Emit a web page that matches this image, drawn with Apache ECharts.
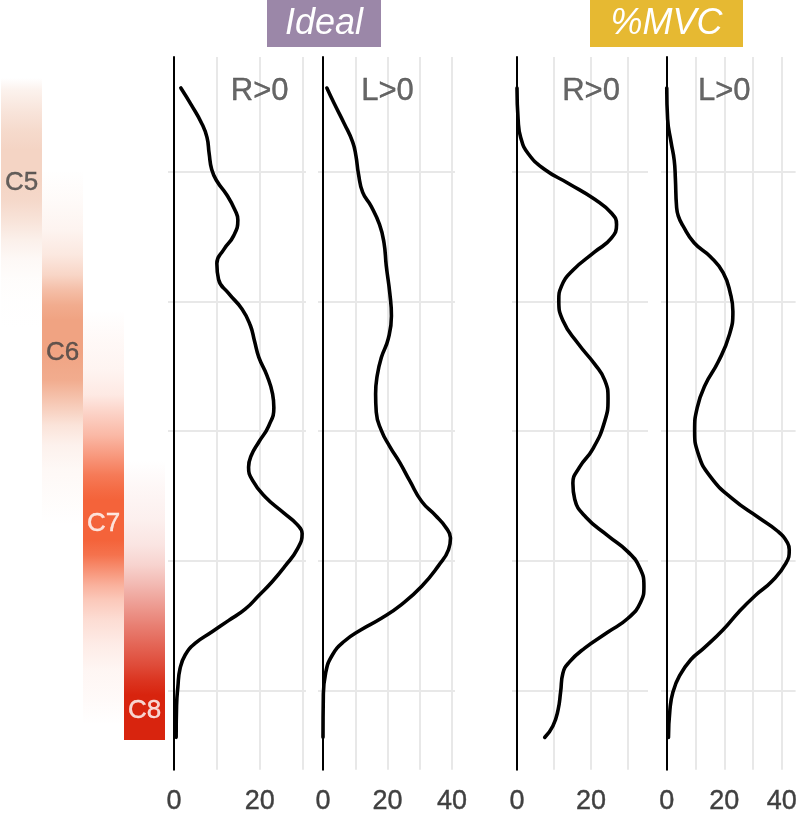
<!DOCTYPE html>
<html>
<head>
<meta charset="utf-8">
<script src="https://cdn.jsdelivr.net/npm/echarts@6/dist/echarts.min.js"></script>
<style>
  html, body { margin: 0; padding: 0; background: #fff; }
  #chart { width: 800px; height: 815px; }
</style>
</head>
<body>
<div id="chart"></div>
<script>
  // vertical position (top -> bottom), gridlines every 100
  const yGrid = [100, 200, 300, 400, 500];

  // density curves as [value, position]
  const idealR = [[1.6,35.4],[4.1,48.8],[6.5,62.9],[7.7,73.5],[8.2,85.9],[8.8,98.2],[10.0,107.1],[12.3,117.7],[14.3,130.0],[14.9,137.1],[13.9,149.4],[11.6,160.0],[10.0,170.6],[10.4,183.0],[12.7,193.6],[15.9,205.9],[17.8,218.3],[18.8,230.6],[19.8,243.0],[21.7,257.1],[23.0,271.2],[23.3,281.8],[22.1,295.9],[19.8,308.3],[18.0,318.9],[17.4,327.7],[18.4,338.3],[21.3,350.7],[25.6,363.0],[28.7,371.8],[29.9,378.9],[28.7,391.3],[26.0,403.6],[22.9,416.0],[19.8,426.6],[16.6,437.2],[12.7,446.0],[8.8,454.8],[4.9,463.6],[2.6,472.5],[1.4,483.1],[0.9,497.2],[0.6,511.3],[0.5,536.0]];
  const idealL = [[1.2,35.4],[3.4,47.0],[6.6,62.9],[9.2,77.1],[10.2,87.6],[11.0,101.8],[12.3,115.9],[14.9,126.5],[17.5,140.6],[18.9,154.7],[19.6,172.4],[20.7,193.6],[21.2,211.2],[20.2,228.9],[18.1,243.0],[16.8,257.1],[16.3,271.2],[16.5,285.3],[18.1,299.5],[20.7,311.8],[23.8,324.2],[26.9,338.3],[30.6,354.2],[34.8,364.8],[37.9,373.6],[39.5,382.4],[38.9,391.3],[35.8,403.6],[30.6,419.5],[24.3,433.6],[18.1,444.2],[11.8,453.0],[6.6,461.9],[2.9,472.5],[0.8,486.6],[0.1,504.2],[0,536.0]];
  const mvcR = [[0,35.4],[0.3,59.4],[1.0,73.5],[3.0,85.9],[7.5,98.2],[13.8,108.8],[21.0,121.2],[25.5,131.8],[26.9,140.6],[25.5,151.2],[21.0,161.8],[15.1,175.9],[12.0,188.3],[11.3,198.9],[12.4,214.7],[16.5,232.4],[21.0,248.3],[23.7,260.6],[24.6,274.8],[23.7,292.4],[20.5,313.6],[16.9,327.7],[15.1,340.1],[15.6,352.4],[18.7,366.5],[24.6,380.7],[30.0,393.0],[33.2,405.4],[34.3,419.5],[33.4,431.9],[30.0,444.2],[24.6,454.8],[18.3,467.2],[14.2,477.8],[12.4,486.6],[11.8,500.7],[11.1,514.8],[9.7,527.2],[7.5,536.0]];
  const mvcL = [[0,35.4],[0.3,59.4],[1.5,77.1],[2.6,91.2],[3.0,105.3],[3.4,126.5],[4.0,134.0],[5.6,141.5],[9.5,154.7],[15.1,165.3],[19.6,177.7],[22.1,193.6],[23.0,207.7],[21.8,225.4],[17.9,246.5],[13.4,264.2],[10.6,281.8],[9.7,299.5],[10.9,317.1],[15.1,334.8],[23.0,352.4],[31.9,366.5],[38.6,377.1],[42.0,386.0],[42.6,391.3],[41.4,401.9],[36.4,416.0],[30.8,426.6],[25.2,438.9],[19.6,453.0],[12.9,467.2],[8.4,476.0],[4.5,488.3],[2.2,500.7],[1.1,514.8],[0.6,536.0]];

  // vertebral level strips: positions and opacity
  const levels = ['C5', 'C6', 'C7', 'C8'];
  const levelLabelPos = [107.6, 237.4, 367.9, 510.5];
  const c5Pos = [27.5,36.6,51.9,67.2,82.4,105.3,120.6,135.9,151.1,166.4,181.7,196.9,219.8];
  const c5Alpha = [0,0.3,0.6,0.85,1,1,0.9,0.65,0.35,0.15,0.06,0.02,0];
  const c6Pos = [97.7,120.6,143.5,162.6,177.9,189.3,200.8,212.2,235.1,258.0,269.5,280.9,292.4,307.6,326.7,349.6,368.7];
  const c6Alpha = [0,0.05,0.12,0.25,0.45,0.7,0.9,1,1,0.9,0.7,0.5,0.3,0.15,0.07,0.03,0];
  const c7Pos = [204.6,227.5,250.4,269.5,284.7,300.0,315.3,330.5,342.0,349.6,380.2,391.6,403.1,414.5,426.0,441.2,460.3,479.4,502.3,521.4];
  const c7Alpha = [0,0.04,0.07,0.14,0.3,0.45,0.65,0.85,0.95,1,1,0.9,0.7,0.5,0.35,0.22,0.12,0.06,0.03,0];
  const c8Pos = [319.1,342.0,364.9,384.0,399.2,414.5,429.8,445.0,460.3,475.6,487.0,498.5,532.8];
  const c8Alpha = [0,0.04,0.07,0.12,0.2,0.32,0.45,0.58,0.7,0.82,0.92,1,1];

  const levelColors = [[244,212,196],[240,163,130],[244,99,58],[216,36,14]];
  const levelPos = [c5Pos, c6Pos, c7Pos, c8Pos];
  const levelAlpha = [c5Alpha, c6Alpha, c7Alpha, c8Alpha];

  const font = '"Liberation Sans", Arial, sans-serif';
  const textGrey = '#404040';
  const gridGrey = '#e8e8e8';
  const yMin = 11.5, yMax = 561;

  const panels = [
    {name: 'R>0', data: idealR, left: 168, width: 138, min: -1.4, max: 30.8, ticks: [10,20,30], labels: [0,20]},
    {name: 'L>0', data: idealL, left: 318, width: 137, min: -1.55, max: 40.9, ticks: [10,20,30,40], labels: [0,20,40]},
    {name: 'R>0', data: mvcR, left: 512, width: 136, min: -1.35, max: 35.4, ticks: [10,20,30], labels: [0,20]},
    {name: 'L>0', data: mvcL, left: 661, width: 139, min: -2.0, max: 44.8, ticks: [10,20,30,40], labels: [0,20,40]}
  ];

  // tile segments for the strips
  const tiles = [];
  levels.forEach((lv, i) => {
    const pos = levelPos[i], a = levelAlpha[i];
    for (let k = 0; k < pos.length - 1; k++) {
      tiles.push([i, pos[k], pos[k + 1], a[k], a[k + 1]]);
    }
  });
  const rgba = (c, a) => 'rgba(' + c[0] + ',' + c[1] + ',' + c[2] + ',' + a + ')';

  const grid = [{left: 1, top: 57, width: 164, height: 720}];
  const xAxis = [{type: 'value', gridIndex: 0, min: 0, max: 4, show: false}];
  const yAxis = [{type: 'value', gridIndex: 0, min: yMin, max: yMax, inverse: true, show: false}];
  const series = [
    {
      type: 'custom',
      xAxisIndex: 0, yAxisIndex: 0,
      data: tiles,
      renderItem: (params, api) => {
        const i = api.value(0);
        const p0 = api.coord([i, api.value(1)]);
        const p1 = api.coord([i + 1, api.value(2)]);
        const y0 = Math.round(p0[1]), y1 = Math.round(p1[1]);
        const c = levelColors[i];
        return {
          type: 'rect',
          shape: {x: Math.round(p0[0]), y: y0, width: Math.round(p1[0]) - Math.round(p0[0]), height: y1 - y0},
          style: {
            fill: new echarts.graphic.LinearGradient(0, 0, 0, 1, [
              {offset: 0, color: rgba(c, api.value(3))},
              {offset: 1, color: rgba(c, api.value(4))}
            ])
          }
        };
      }
    },
    {
      type: 'scatter',
      xAxisIndex: 0, yAxisIndex: 0,
      symbolSize: 1,
      itemStyle: {color: 'rgba(0,0,0,0)'},
      data: levels.map((lv, i) => ({
        value: [i + 0.5, levelLabelPos[i]],
        name: lv,
        label: {color: i < 2 ? textGrey : '#ffffff', textBorderColor: i < 2 ? textGrey : '#ffffff'}
      })),
      label: {show: true, position: 'inside', formatter: '{b}', fontSize: 26, fontFamily: font, textBorderWidth: 0.4}
    }
  ];

  panels.forEach((p, k) => {
    const gi = k + 1;
    grid.push({left: p.left, top: 57, width: p.width, height: 720});
    xAxis.push({
      type: 'value', gridIndex: gi, min: p.min, max: p.max,
      axisLine: {show: false},
      axisTick: {show: false},
      axisLabel: {customValues: p.labels, fontSize: 27, color: textGrey, fontFamily: font, margin: 18,
        textBorderColor: textGrey, textBorderWidth: 0.4},
      splitLine: {show: false}
    });
    yAxis.push({
      type: 'value', gridIndex: gi, min: yMin, max: yMax, inverse: true, z: 2,
      axisLine: {show: true, onZero: true, lineStyle: {color: '#000', width: 2}},
      axisTick: {show: false},
      axisLabel: {show: false},
      splitLine: {show: false}
    });
    // gridlines
    series.push({
      type: 'line', xAxisIndex: gi, yAxisIndex: gi, z: 1,
      data: [], silent: true,
      markLine: {
        silent: true, z: 1, animation: false,
        symbol: ['none', 'none'],
        label: {show: false},
        lineStyle: {color: gridGrey, width: 2, type: 'solid'},
        emphasis: {disabled: true},
        data: p.ticks.map(v => ({xAxis: v})).concat(yGrid.map(v => ({yAxis: v})))
      }
    });
    series.push({
      type: 'line', xAxisIndex: gi, yAxisIndex: gi, z: 3,
      data: p.data, showSymbol: false, smooth: 0.5,
      lineStyle: {color: '#000', width: 3.6, cap: 'round', join: 'round'}
    });
    series.push({
      type: 'scatter', xAxisIndex: gi, yAxisIndex: gi, z: 4,
      symbolSize: 1, itemStyle: {color: 'rgba(0,0,0,0)'},
      data: [{value: [20, 38.2], name: p.name}],
      label: {show: true, position: 'inside', formatter: '{b}', fontSize: 31, color: textGrey, fontFamily: font,
        textBorderColor: textGrey, textBorderWidth: 0.4}
    });
  });

  const chart = echarts.init(document.getElementById('chart'), null, {renderer: 'canvas'});
  chart.setOption({
    animation: false,
    backgroundColor: '#ffffff',
    grid: grid,
    xAxis: xAxis,
    yAxis: yAxis,
    series: series,
    graphic: [
      {type: 'rect', left: 267, top: 0, shape: {width: 114, height: 47}, style: {fill: '#9b87a8'}},
      {type: 'text', x: 324, y: 24, style: {text: 'Ideal', fill: '#fff', font: 'italic 36px ' + font, textAlign: 'center', textVerticalAlign: 'middle'}},
      {type: 'rect', left: 590, top: 0, shape: {width: 153, height: 47}, style: {fill: '#e6b932'}},
      {type: 'text', x: 666.5, y: 24, style: {text: '%MVC', fill: '#fff', font: 'italic 36px ' + font, textAlign: 'center', textVerticalAlign: 'middle'}}
    ]
  });
</script>
</body>
</html>
